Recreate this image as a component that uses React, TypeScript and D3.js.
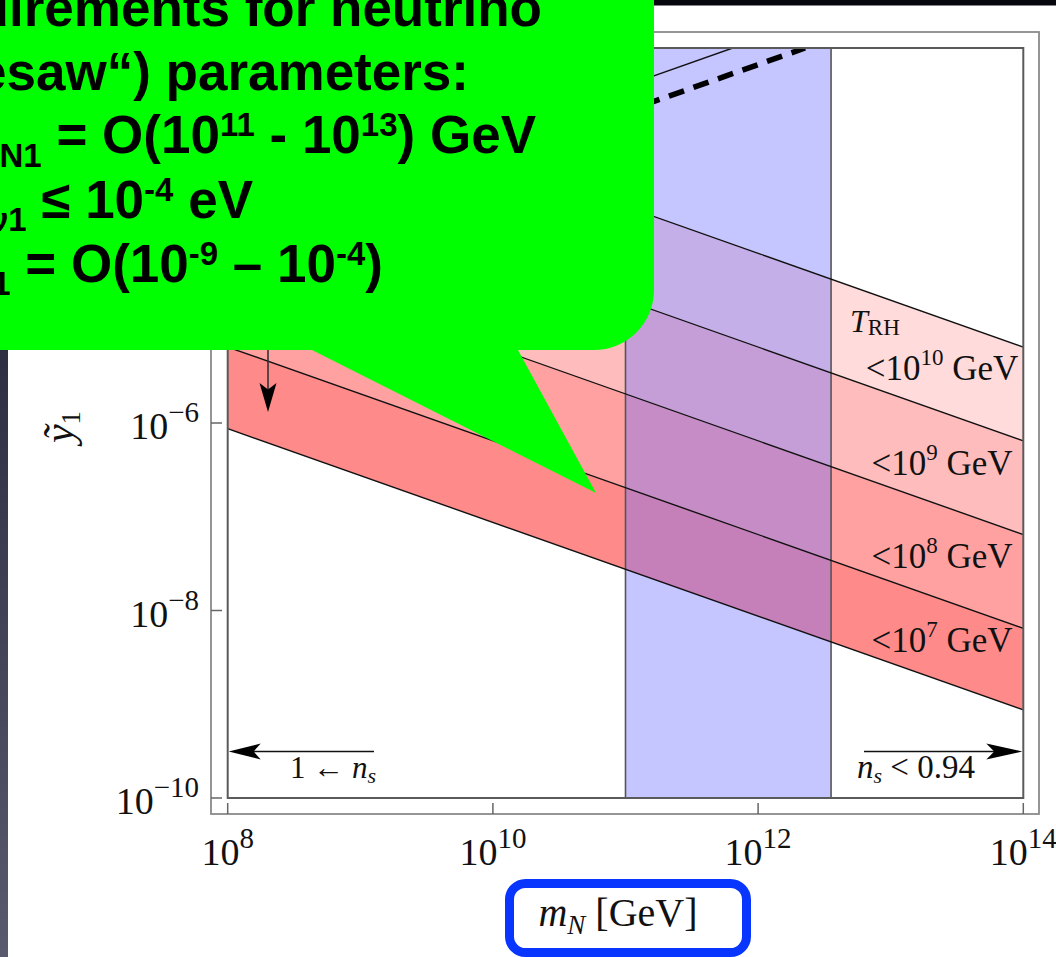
import React from "react";
import * as d3 from "d3";

// ---------- data ----------
const mDomain: [number, number] = [1e8, 1e14];
const yDomain: [number, number] = [1e-10, 1e-2];
const xTicks = [1e8, 1e10, 1e12, 1e14];
const xTickExp = ["8", "10", "12", "14"];
const yTicks = [1e-10, 1e-8, 1e-6, 1e-4, 1e-2];
const yTickExp = ["\u221210", "\u22128", "\u22126", "\u22124", "\u22122"];

// T_RH boundary lines: value of y~1 at m = 1e8 and at m = 1e14
const tRhLeft = [6.46e-3, 6.46e-4, 6.46e-5, 6.46e-6];
const tRhRight = [6.46e-6, 6.46e-7, 6.46e-8, 6.46e-9];
const tRhExp = ["10", "9", "8", "7"];
const tRhLabelY = [380, 475, 568, 652];
// lower boundary of the allowed region
const lowerLeft = 8.7e-7;
const lowerRight = 8.7e-10;
// blue band in m_N
const blueBand: [number, number] = [1e11, 3.55e12];
// two upper lines (thin solid, thick dashed): [m, y] points
const thinLine: [number, number][] = [[1e8, 1.25e-4], [6.43e11, 1e-2]];
const dashLine: [number, number][] = [[1e8, 6.65e-5], [2.26e12, 1e-2]];

// ---------- layout ----------
const W = 1056, H = 957;
const PL = 227.7, PR = 1023.3, PT = 48, PB = 798;
const OL = 211, OR = 1039, OT = 32, OB = 814;
const serif = "'Liberation Serif', 'Times New Roman', Times, serif";
const sans = "'Liberation Sans', Arial, Helvetica, sans-serif";

function arrowHead(tx: number, ty: number, angle: number, L = 32, Wd = 16) {
  const c = Math.cos(angle), s = Math.sin(angle);
  const pt = (a: number, b: number) => [tx + a * c - b * s, ty + a * s + b * c];
  const p1 = pt(-L, -Wd / 2), p2 = pt(-L * 0.78, 0), p3 = pt(-L, Wd / 2);
  return `M${tx},${ty}L${p1[0]},${p1[1]}L${p2[0]},${p2[1]}L${p3[0]},${p3[1]}Z`;
}

export default function App() {
  const x = d3.scaleLog().domain(mDomain).range([PL, PR]);
  const y = d3.scaleLog().domain(yDomain).range([PB, PT]);
  const line = d3.line<[number, number]>().x(d => x(d[0])).y(d => y(d[1]));
  const area = d3
    .area<{ m: number; hi: number; lo: number }>()
    .x(d => x(d.m))
    .y0(d => y(d.lo))
    .y1(d => y(d.hi));

  const bands = tRhLeft.map((l, i) =>
    area([
      { m: mDomain[0], hi: l, lo: lowerLeft },
      { m: mDomain[1], hi: tRhRight[i], lo: lowerRight },
    ])
  );
  const tLines = tRhLeft.map((l, i) =>
    line([[mDomain[0], l], [mDomain[1], tRhRight[i]]])
  );
  const lowerPath = line([[mDomain[0], lowerLeft], [mDomain[1], lowerRight]]);

  const bx0 = x(blueBand[0]), bx1 = x(blueBand[1]);
  const textCol = "#111";

  return (
    <svg
      width={W}
      height={H}
      viewBox={`0 0 ${W} ${H}`}
      style={{ position: "absolute", left: 0, top: 0, background: "#fff" }}
    >
      <defs>
        <clipPath id="plotClip">
          <rect x={PL} y={PT} width={PR - PL} height={PB - PT} />
        </clipPath>
        <linearGradient id="leftStrip" x1="0" y1="0" x2="0" y2="1">
          <stop offset="0" stopColor="#15152a" />
          <stop offset="1" stopColor="#5a5a6e" />
        </linearGradient>
      </defs>
      <rect x={0} y={0} width={W} height={H} fill="#fff" />
      {/* slide background fragments */}
      <rect x={0} y={0} width={8} height={H} fill="url(#leftStrip)" />
      <rect x={640} y={0} width={W - 640} height={5.5} fill="#06060e" />

      {/* outer frame */}
      <rect x={OL} y={OT} width={OR - OL} height={OB - OT} fill="none" stroke="#8a8a8a" strokeWidth={1.8} />

      {/* plot contents */}
      <g clipPath="url(#plotClip)">
        {bands.map((d, i) => (
          <path key={i} d={d || ""} fill="rgb(255,0,0)" fillOpacity={0.14} stroke="none" />
        ))}
        <rect x={bx0} y={PT} width={bx1 - bx0} height={PB - PT} fill="rgb(110,110,255)" fillOpacity={0.4} />
        <line x1={bx0} x2={bx0} y1={PT} y2={PB} stroke="#555" strokeWidth={1.6} />
        <line x1={bx1} x2={bx1} y1={PT} y2={PB} stroke="#555" strokeWidth={1.6} />
        {tLines.map((d, i) => (
          <path key={i} d={d || ""} fill="none" stroke="#111" strokeWidth={1.4} />
        ))}
        <path d={lowerPath || ""} fill="none" stroke="#111" strokeWidth={1.4} />
        <path d={line(thinLine) || ""} fill="none" stroke="#111" strokeWidth={1.4} />
        <path
          d={line(dashLine) || ""}
          fill="none"
          stroke="#000"
          strokeWidth={5.5}
          strokeDasharray="16 10"
        />
        <line x1={bx0} x2={bx1} y1={PB} y2={PB} stroke="#333" strokeWidth={2} />
      </g>

      {/* inner frame */}
      <rect x={PL} y={PT} width={PR - PL} height={PB - PT} fill="none" stroke="#5a5a5a" strokeWidth={2} />

      {/* ticks */}
      {xTicks.map((t, i) => (
        <g key={i}>
          <line x1={x(t)} x2={x(t)} y1={OB} y2={OB - 11} stroke="#666" strokeWidth={1.5} />
          <text x={x(t)} y={865} textAnchor="middle" fontFamily={serif} fontSize={38} fill={textCol}>
            10<tspan dy={-17} fontSize={29}>{xTickExp[i]}</tspan>
          </text>
        </g>
      ))}
      {yTicks.map((t, i) => (
        <g key={i}>
          <line x1={OL} x2={OL + 11} y1={y(t)} y2={y(t)} stroke="#666" strokeWidth={1.5} />
          <text x={199} y={y(t) + 16} textAnchor="end" fontFamily={serif} fontSize={38} fill={textCol}>
            10<tspan dy={-17} fontSize={29}>{yTickExp[i]}</tspan>
          </text>
        </g>
      ))}

      {/* axis labels */}
      <text transform="translate(73,427) rotate(-90)" textAnchor="middle" fontFamily={serif} fontSize={42} fill={textCol}>
        <tspan fontStyle="italic">{"\u1EF9"}</tspan>
        <tspan dy={7} fontSize={27}>1</tspan>
      </text>
      <text x={618} y={926} textAnchor="middle" fontFamily={serif} fontSize={40} fill={textCol}>
        <tspan fontStyle="italic">m</tspan>
        <tspan dy={8} fontSize={27} fontStyle="italic">N</tspan>
        <tspan dy={-8}>{" [GeV]"}</tspan>
      </text>
      <rect x={509.5} y={883.5} width={237} height={69} rx={16} ry={16} fill="none" stroke="#0836ff" strokeWidth={9} />

      {/* T_RH annotations */}
      <text x={850} y={332} fontFamily={serif} fontSize={32} fill={textCol}>
        <tspan fontStyle="italic">T</tspan>
        <tspan dy={3} fontSize={23}>RH</tspan>
      </text>
      {tRhExp.map((e, i) => (
        <text key={i} x={942} y={tRhLabelY[i]} textAnchor="middle" fontFamily={serif} fontSize={35} fill={textCol}>
          {"<10"}
          <tspan dy={-15} fontSize={23}>{e}</tspan>
          <tspan dy={15}>{" GeV"}</tspan>
        </text>
      ))}

      {/* n_s arrows */}
      <line x1={374} x2={250} y1={751.5} y2={751.5} stroke="#111" strokeWidth={1.6} />
      <path d={arrowHead(PL + 1, 751.5, Math.PI)} fill="#000" />
      <text x={333} y={778} textAnchor="middle" fontFamily={serif} fontSize={31} fill={textCol}>
        {"1 \u2190 "}
        <tspan fontStyle="italic">n</tspan>
        <tspan dy={5} fontSize={22} fontStyle="italic">s</tspan>
      </text>
      <line x1={864} x2={1000} y1={751.5} y2={751.5} stroke="#111" strokeWidth={1.6} />
      <path d={arrowHead(PR - 1, 751.5, 0, 36, 16)} fill="#000" />
      <text x={916} y={778} textAnchor="middle" fontFamily={serif} fontSize={33} fill={textCol}>
        <tspan fontStyle="italic">n</tspan>
        <tspan dy={5} fontSize={22} fontStyle="italic">s</tspan>
        <tspan dy={-5}>{" < 0.94"}</tspan>
      </text>
      {/* down arrow */}
      <line x1={268} x2={268} y1={300} y2={392} stroke="#333" strokeWidth={1.6} />
      <path d={arrowHead(268, 412, Math.PI / 2, 29, 17)} fill="#000" />

      {/* green speech bubble */}
      <path
        d="M-20,-20H654V290A60,60 0 0 1 594,350H518L596,493L312,350H-20Z"
        fill="#00ff00"
      />
      <g fontFamily={sans} fontWeight="bold" fontSize={53} fill="#000">
        <text x={542} y={26} textAnchor="end">Requirements for neutrino</text>
        <text x={469} y={90} textAnchor="end">{"(\u201Eseesaw\u201C) parameters:"}</text>
        <text x={536} y={153} textAnchor="end">
          {"M"}
          <tspan dy={14} fontSize={33}>N1</tspan>
          <tspan dy={-14}>{" = O(10"}</tspan>
          <tspan dy={-17} fontSize={33}>11</tspan>
          <tspan dy={17}>{" - 10"}</tspan>
          <tspan dy={-17} fontSize={33}>13</tspan>
          <tspan dy={17}>{") GeV"}</tspan>
        </text>
        <text x={253} y={218} textAnchor="end">
          {"m"}
          <tspan dy={13} fontSize={33}>{"\u03BD1"}</tspan>
          <tspan dy={-13}>{" \u2264 10"}</tspan>
          <tspan dy={-17} fontSize={33}>-4</tspan>
          <tspan dy={17}>{" eV"}</tspan>
        </text>
        <text x={383} y={282} textAnchor="end">
          {"\u1EF9"}
          <tspan dy={13} fontSize={33}>1</tspan>
          <tspan dy={-13}>{" = O(10"}</tspan>
          <tspan dy={-17} fontSize={33}>-9</tspan>
          <tspan dy={17}>{" \u2013 10"}</tspan>
          <tspan dy={-17} fontSize={33}>-4</tspan>
          <tspan dy={17}>{")"}</tspan>
        </text>
      </g>
    </svg>
  );
}
